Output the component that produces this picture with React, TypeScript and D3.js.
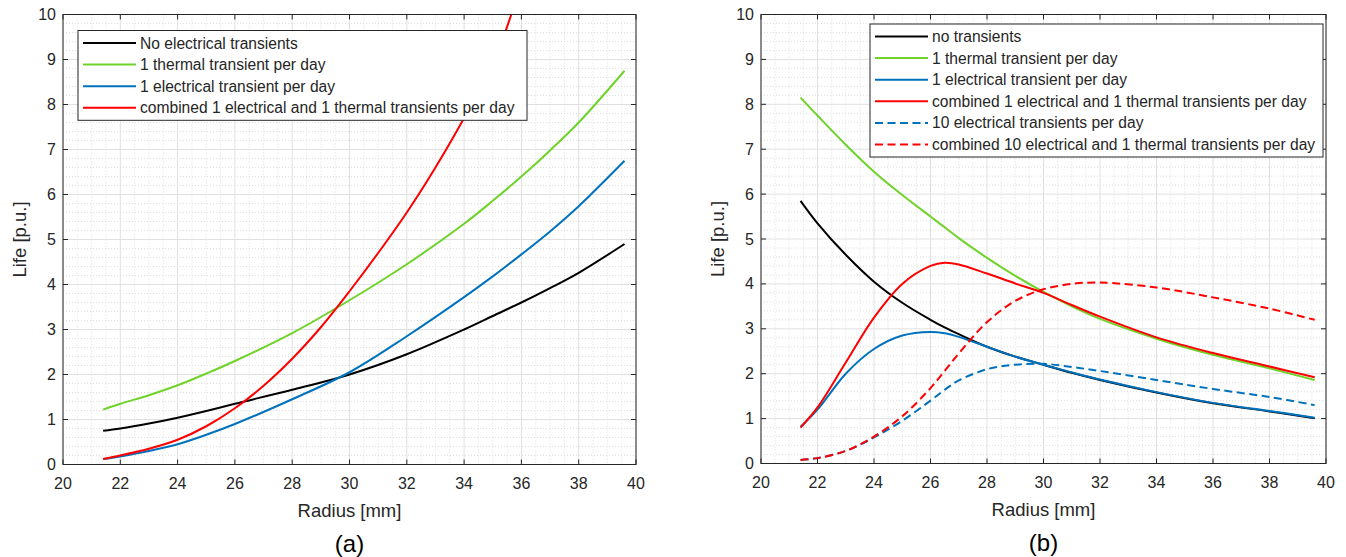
import React from "react";
import * as d3 from "d3";

// ---------- Data (panel a) ----------
const radiusA = [21.4, 22, 23, 24, 25, 26, 28, 30, 32, 34, 35, 36, 37, 38, 39.6];
const noElecA = [0.75, 0.8, 0.91, 1.04, 1.19, 1.35, 1.66, 2.0, 2.45, 3.0, 3.3, 3.6, 3.92, 4.26, 4.9];
const thermalA = [1.22, 1.35, 1.54, 1.76, 2.02, 2.3, 2.92, 3.65, 4.45, 5.35, 5.86, 6.4, 6.98, 7.6, 8.75];
const elecA = [0.12, 0.18, 0.3, 0.45, 0.66, 0.9, 1.45, 2.05, 2.85, 3.72, 4.18, 4.67, 5.18, 5.74, 6.75];
const radiusRedA = [21.4, 22, 23, 24, 25, 26, 27, 28, 29, 30, 31, 32, 33, 34, 35, 35.7];
const combinedA = [0.12, 0.2, 0.35, 0.55, 0.85, 1.25, 1.75, 2.35, 3.05, 3.85, 4.7, 5.6, 6.6, 7.7, 8.9, 10.1];

// ---------- Data (panel b) ----------
const radiusB = [21.4, 22, 23, 24, 25, 26, 26.5, 27, 28, 29, 30, 31, 32, 34, 36, 38, 39.6];
const noTransB = [5.85, 5.35, 4.65, 4.05, 3.58, 3.2, 3.03, 2.88, 2.6, 2.38, 2.2, 2.02, 1.86, 1.58, 1.34, 1.16, 1.01];
const thermalB = [8.15, 7.75, 7.1, 6.5, 5.98, 5.5, 5.26, 5.02, 4.58, 4.18, 3.82, 3.5, 3.22, 2.78, 2.42, 2.12, 1.86];
const elecB = [0.82, 1.2, 2.0, 2.55, 2.85, 2.93, 2.9, 2.82, 2.6, 2.38, 2.2, 2.03, 1.87, 1.59, 1.35, 1.17, 1.02];
const combinedB = [0.8, 1.25, 2.25, 3.25, 4.0, 4.4, 4.47, 4.43, 4.23, 4.01, 3.8, 3.53, 3.27, 2.81, 2.46, 2.16, 1.92];
const elec10B = [0.08, 0.12, 0.28, 0.58, 0.95, 1.4, 1.64, 1.85, 2.1, 2.2, 2.22, 2.15, 2.06, 1.86, 1.66, 1.48, 1.3];
const combined10B = [0.08, 0.12, 0.28, 0.6, 1.05, 1.68, 2.06, 2.45, 3.15, 3.62, 3.88, 4.0, 4.03, 3.92, 3.7, 3.45, 3.2];

const xTicks = [20, 22, 24, 26, 28, 30, 32, 34, 36, 38, 40];
const yTicks = [0, 1, 2, 3, 4, 5, 6, 7, 8, 9, 10];

const legendA = [
  "No electrical transients",
  "1 thermal transient per day",
  "1 electrical transient per day",
  "combined 1 electrical and 1 thermal transients per day",
];
const legendB = [
  "no transients",
  "1 thermal transient per day",
  "1 electrical transient per day",
  "combined 1 electrical and 1 thermal transients per day",
  "10 electrical transients per day",
  "combined 10 electrical and 1 thermal transients per day",
];

const BLACK = "#000000";
const GREEN = "#6fd32a";
const BLUE = "#0072bd";
const RED = "#ff0000";
const AX = "#262626";
const FONT = "'Liberation Sans', Arial, Helvetica, sans-serif";

type Series = { x: number[]; y: number[]; color: string; dashed?: boolean; label: string };

type PanelProps = {
  left: number;
  right: number;
  top: number;
  bottom: number;
  series: Series[];
  legend: { x: number; y: number; w: number; row: number };
  caption: string;
  clipId: string;
};

function Panel({ left, right, top, bottom, series, legend, caption, clipId }: PanelProps) {
  const xs = d3.scaleLinear().domain([20, 40]).range([left, right]);
  const ys = d3.scaleLinear().domain([0, 10]).range([bottom, top]);
  const minorX = d3.range(20, 40.01, 0.5).filter((v) => Math.abs(v % 2) > 1e-6);
  const minorY = d3.range(0, 10.001, 0.2).filter((v) => Math.abs(v - Math.round(v)) > 1e-6);
  const line = (s: Series) =>
    d3
      .line<number>()
      .x((_, i) => xs(s.x[i]))
      .y((v) => ys(v))
      .curve(d3.curveCatmullRom.alpha(0.5))(s.y) || "";
  const cx = (left + right) / 2;
  const lh = legend.row;
  const legH = (series.length - 1) * lh + 25;
  return (
    <g>
      <defs>
        <clipPath id={clipId}>
          <rect x={left} y={top} width={right - left} height={bottom - top} />
        </clipPath>
      </defs>
      <rect x={left} y={top} width={right - left} height={bottom - top} fill="#fff" />
      {/* minor grid */}
      {minorX.map((v) => (
        <line key={"mx" + v} x1={xs(v)} x2={xs(v)} y1={top} y2={bottom} stroke="#c8c8c8" strokeWidth={0.6} strokeDasharray="1,2" />
      ))}
      {minorY.map((v) => (
        <line key={"my" + v} x1={left} x2={right} y1={ys(v)} y2={ys(v)} stroke="#c8c8c8" strokeWidth={0.6} strokeDasharray="1,2" />
      ))}
      {/* major grid */}
      {xTicks.map((v) => (
        <line key={"gx" + v} x1={xs(v)} x2={xs(v)} y1={top} y2={bottom} stroke="#e0e0e0" strokeWidth={1} />
      ))}
      {yTicks.map((v) => (
        <line key={"gy" + v} x1={left} x2={right} y1={ys(v)} y2={ys(v)} stroke="#e0e0e0" strokeWidth={1} />
      ))}
      {/* series */}
      <g clipPath={`url(#${clipId})`}>
        {series.map((s, i) => (
          <path
            key={"s" + i}
            d={line(s)}
            fill="none"
            stroke={s.color}
            strokeWidth={2}
            strokeDasharray={s.dashed ? "8,4.5" : undefined}
          />
        ))}
      </g>
      {/* axes box */}
      <rect x={left} y={top} width={right - left} height={bottom - top} fill="none" stroke={AX} strokeWidth={1} />
      {xTicks.map((v) => (
        <g key={"tx" + v}>
          <line x1={xs(v)} x2={xs(v)} y1={bottom} y2={bottom - 5} stroke={AX} />
          <line x1={xs(v)} x2={xs(v)} y1={top} y2={top + 5} stroke={AX} />
          <text x={xs(v)} y={bottom + 24.5} textAnchor="middle" fontSize={16} fill={AX} fontFamily={FONT}>
            {v}
          </text>
        </g>
      ))}
      {yTicks.map((v) => (
        <g key={"ty" + v}>
          <line x1={left} x2={left + 5} y1={ys(v)} y2={ys(v)} stroke={AX} />
          <line x1={right} x2={right - 5} y1={ys(v)} y2={ys(v)} stroke={AX} />
          <text x={left - 7} y={ys(v) + 5.5} textAnchor="end" fontSize={16} fill={AX} fontFamily={FONT}>
            {v}
          </text>
        </g>
      ))}
      <text x={cx} y={bottom + 52} textAnchor="middle" fontSize={18.5} fill={AX} fontFamily={FONT}>
        Radius [mm]
      </text>
      <text
        transform={`translate(${left - 37},${(top + bottom) / 2}) rotate(-90)`}
        textAnchor="middle"
        fontSize={18.5}
        fill={AX}
        fontFamily={FONT}
      >
        Life [p.u.]
      </text>
      <text x={cx} y={bottom + 87} textAnchor="middle" fontSize={24} fill="#000" fontFamily={FONT}>
        {caption}
      </text>
      {/* legend */}
      <rect x={legend.x} y={legend.y} width={legend.w} height={legH} fill="#fff" stroke={AX} strokeWidth={1} />
      {series.map((s, i) => {
        const yy = legend.y + 12.5 + i * lh;
        return (
          <g key={"l" + i}>
            <line
              x1={legend.x + 5}
              x2={legend.x + 58}
              y1={yy}
              y2={yy}
              stroke={s.color}
              strokeWidth={2}
              strokeDasharray={s.dashed ? "8,4.5" : undefined}
            />
            <text x={legend.x + 62} y={yy + 5.5} fontSize={15.6} fill={AX} fontFamily={FONT}>
              {s.label}
            </text>
          </g>
        );
      })}
    </g>
  );
}

export default function App() {
  const seriesA: Series[] = [
    { x: radiusA, y: noElecA, color: BLACK, label: legendA[0] },
    { x: radiusA, y: thermalA, color: GREEN, label: legendA[1] },
    { x: radiusA, y: elecA, color: BLUE, label: legendA[2] },
    { x: radiusRedA, y: combinedA, color: RED, label: legendA[3] },
  ];
  const seriesB: Series[] = [
    { x: radiusB, y: noTransB, color: BLACK, label: legendB[0] },
    { x: radiusB, y: thermalB, color: GREEN, label: legendB[1] },
    { x: radiusB, y: elecB, color: BLUE, label: legendB[2] },
    { x: radiusB, y: combinedB, color: RED, label: legendB[3] },
    { x: radiusB, y: elec10B, color: BLUE, dashed: true, label: legendB[4] },
    { x: radiusB, y: combined10B, color: RED, dashed: true, label: legendB[5] },
  ];
  return (
    <svg
      width={1346}
      height={557}
      style={{ position: "absolute", left: 0, top: 0, background: "#fff" }}
    >
      <rect width={1346} height={557} fill="#fff" />
      <Panel
        left={63}
        right={636}
        top={14.5}
        bottom={464.5}
        series={seriesA}
        legend={{ x: 78, y: 30.5, w: 449, row: 21.6 }}
        caption="(a)"
        clipId="clipA"
      />
      <Panel
        left={761}
        right={1326}
        top={14.5}
        bottom={463.5}
        series={seriesB}
        legend={{ x: 870, y: 24, w: 453, row: 21.6 }}
        caption="(b)"
        clipId="clipB"
      />
    </svg>
  );
}
